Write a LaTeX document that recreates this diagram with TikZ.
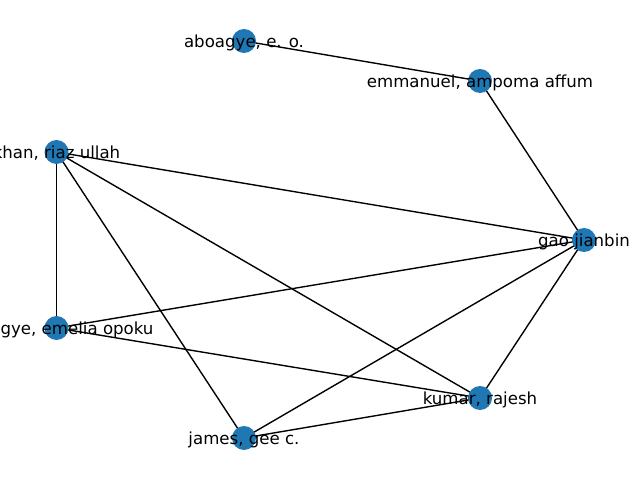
\documentclass[tikz,border=0pt]{standalone}
\usepackage{fontspec}
\setmainfont{DejaVu Sans}
\tikzset{
  vert/.style={circle,fill={rgb,255:red,31;green,119;blue,180},draw=none,minimum size=24*0.254mm,inner sep=0pt},
  lab/.style={font=\fontsize{12pt}{14pt}\selectfont,inner sep=0pt,text=black,yshift=-1.5*0.254mm},
  edge/.style={line width=1pt,black}
}
\begin{document}
\begin{tikzpicture}[x=0.254mm,y=-0.254mm]
\useasboundingbox (0,0) rectangle (640,480);
\clip (0,0) rectangle (640,480);
\coordinate (A) at (244,41);
\coordinate (E) at (480,81);
\coordinate (K) at (56.5,152);
\coordinate (G) at (584,240);
\coordinate (M) at (56.5,328);
\coordinate (R) at (480,398);
\coordinate (J) at (244,438);
\draw[edge] (A) -- (E);
\draw[edge] (E) -- (G);
\draw[edge] (K) -- (G);
\draw[edge] (K) -- (M);
\draw[edge] (K) -- (J);
\draw[edge] (K) -- (R);
\draw[edge] (M) -- (G);
\draw[edge] (M) -- (R);
\draw[edge] (G) -- (J);
\draw[edge] (G) -- (R);
\draw[edge] (R) -- (J);
\node[vert] (nA) at (A) {};
\node[vert] (nE) at (E) {};
\node[vert] (nK) at (K) {};
\node[vert] (nG) at (G) {};
\node[vert] (nM) at (M) {};
\node[vert] (nR) at (R) {};
\node[vert] (nJ) at (J) {};
\node[lab] (lA) at (A) {aboagye, e. o.};
\node[lab] (lE) at (E) {emmanuel, ampoma affum};
\node[lab] (lK) at (K) {khan, riaz ullah};
\node[lab] (lG) at (G) {gao jianbin};
\node[lab] (lM) at (M) {aboagye, emelia opoku};
\node[lab] (lR) at (R) {kumar, rajesh};
\node[lab] (lJ) at (J) {james, gee c.};
\end{tikzpicture}
\end{document}
